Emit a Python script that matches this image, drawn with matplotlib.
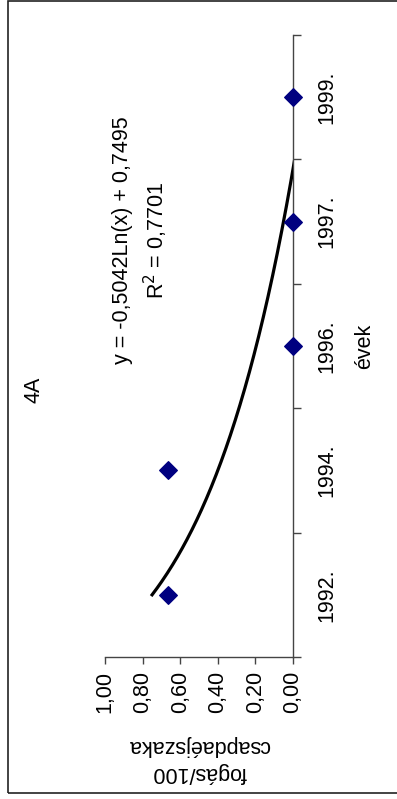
import numpy as np
import matplotlib
matplotlib.use("Agg")
import matplotlib.pyplot as plt
from matplotlib.patches import Rectangle

plt.rcParams['font.family'] = ['Liberation Sans', 'DejaVu Sans']

# Data
years = ["1992.", "1994.", "1996.", "1997.", "1999."]
values = [0.6667, 0.6667, 0.0, 0.0, 0.0]
value_ticks = [0.0, 0.2, 0.4, 0.6, 0.8, 1.0]
value_tick_labels = ["0,00", "0,20", "0,40", "0,60", "0,80", "1,00"]
title = "4A"
x_title = "évek"
y_title = "fogás/100\ncsapdaéjszaka"
eq_text = "y = -0,5042Ln(x) + 0,7495\nR$^2$ = 0,7701"

FS = 15.5
W, H = 397, 799
fig = plt.figure(figsize=(W / 100, H / 100), dpi=100)

# outer chart border
fig.add_artist(Rectangle((8 / W, 6 / H), 1.2, 792 / H, transform=fig.transFigure,
                         fill=False, edgecolor='#222222', linewidth=1.2))

ax = fig.add_axes([105 / W, 1 - 657 / H, 188 / W, 622 / H])

# Category positions (original x-axis), drawn rotated: categories vertical
pos = np.arange(len(years))
ax.scatter(values, pos, marker='D', s=80, color='#000080', zorder=5, clip_on=False)

# Logarithmic trendline fitted to the data (Excel-style, x = 1..n)
xn = pos + 1
slope, intercept = np.polyfit(np.log(xn), values, 1)
xs = np.linspace(1, len(years), 300)
ys = slope * np.log(xs) + intercept
ax.plot(ys, xs - 1, color='black', linewidth=2.3, zorder=4)

ax.set_xlim(1.0, 0.0)
ax.set_ylim(-0.5, len(years) - 0.5)

for s in ['top', 'left']:
    ax.spines[s].set_visible(False)
for s in ['bottom', 'right']:
    ax.spines[s].set_color('#444444')
    ax.spines[s].set_linewidth(1.0)

ax.set_xticks(value_ticks)
ax.set_xticklabels(value_tick_labels, rotation=90, fontsize=FS)
ax.tick_params(axis='x', direction='out', length=5, width=1, color='#444444', pad=5)

ax.yaxis.tick_right()
ax.set_yticks(np.arange(-0.5, len(years), 1.0))
ax.set_yticklabels([])
ax.set_yticks(pos, minor=True)
ax.set_yticklabels(years, minor=True, rotation=90, fontsize=FS, va='center')
ax.tick_params(axis='y', which='major', direction='out', length=6, width=1, color='#444444')
ax.tick_params(axis='y', which='minor', length=0, pad=17)

ax.set_xlabel(y_title, rotation=180, fontsize=FS, ha='center', va='center', linespacing=1.4)
ax.xaxis.set_label_coords(0.5, -(759 - 657) / 622)
ax.yaxis.set_label_position('right')
ax.set_ylabel(x_title, rotation=90, fontsize=FS, ha='center', va='center')
ax.yaxis.set_label_coords((365 - 105) / 188, 0.5)

fig.text(34 / W, 1 - 390 / H, title, rotation=90, fontsize=FS, ha='center', va='center')
fig.text(141 / W, 1 - 240 / H, eq_text, rotation=90, fontsize=FS, ha='center', va='center',
         multialignment='center', linespacing=1.35)

fig.savefig("out.png", dpi=100)
